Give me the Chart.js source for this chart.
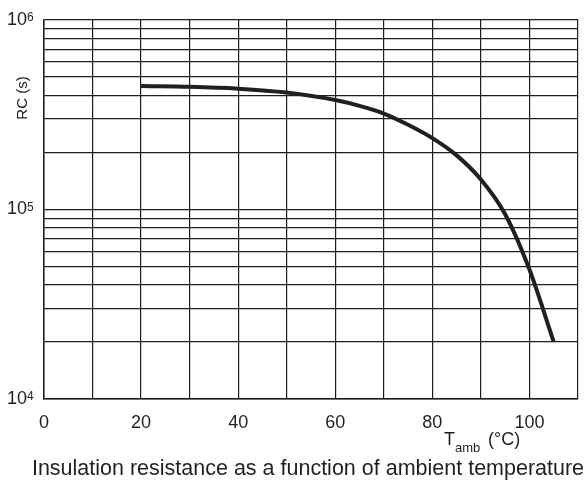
<!DOCTYPE html>
<html>
<head>
<meta charset="utf-8">
<script src="https://cdn.jsdelivr.net/npm/chart.js@4/dist/chart.umd.min.js"></script>
<style>
  html, body { margin: 0; padding: 0; background: #fff; }
  canvas { display: block; }
</style>
</head>
<body>
<canvas id="chart" width="587" height="480"></canvas>
<script>
// ambient temperature (°C) and RC (s)
const tempValues = [20, 30, 40, 50, 60, 65, 70, 75, 80, 85, 90, 95, 100, 105];
const rcValues = [448000, 444000, 434000, 414000, 378000, 352000, 321000, 280000, 238000, 193000, 144000, 94400, 48200, 20000];

const xLabelValues = [0, 20, 40, 60, 80, 100];
const yGridValues = [1e4, 2e4, 3e4, 4e4, 5e4, 6e4, 7e4, 8e4, 9e4,
                     1e5, 2e5, 3e5, 4e5, 5e5, 6e5, 7e5, 8e5, 9e5, 1e6];
const yLabelValues = [1e4, 1e5, 1e6];

const FONT = '"Liberation Sans", Arial, Helvetica, sans-serif';
const INK = '#231f20';
const GRID = '#1e1e1e';

const labelsPlugin = {
    id: 'labels',
    afterDraw(chart) {
        const ctx = chart.ctx;
        const x = chart.scales.x;
        const y = chart.scales.y;
        const area = chart.chartArea;
        ctx.save();
        ctx.fillStyle = INK;

        // x tick labels
        ctx.font = '18px ' + FONT;
        ctx.textAlign = 'center';
        ctx.textBaseline = 'alphabetic';
        xLabelValues.forEach(v => {
            ctx.fillText(String(v), x.getPixelForValue(v), area.bottom + 29);
        });

        // y tick labels 10^n
        yLabelValues.forEach(v => {
            const py = y.getPixelForValue(v);
            const exp = Math.round(Math.log10(v));
            ctx.font = '18px ' + FONT;
            ctx.textAlign = 'right';
            ctx.textBaseline = 'middle';
            ctx.fillText('10', 27, py);
            ctx.font = '12px ' + FONT;
            ctx.textAlign = 'left';
            ctx.textBaseline = 'top';
            ctx.fillText(String(exp), 27, py - 8);
        });

        // x axis title T_amb (°C)
        ctx.textAlign = 'left';
        ctx.textBaseline = 'alphabetic';
        ctx.font = '18px ' + FONT;
        ctx.fillText('T', 444, 445);
        ctx.font = '13px ' + FONT;
        ctx.fillText('amb', 455, 452);
        ctx.font = '18px ' + FONT;
        ctx.fillText('(°C)', 488, 445);

        // y axis title
        ctx.save();
        ctx.translate(27, 98);
        ctx.rotate(-Math.PI / 2);
        ctx.font = '15px ' + FONT;
        ctx.textAlign = 'center';
        ctx.textBaseline = 'alphabetic';
        ctx.fillText('RC (s)', 0, 0);
        ctx.restore();

        // caption
        ctx.font = '21.5px ' + FONT;
        ctx.textAlign = 'center';
        ctx.fillText('Insulation resistance as a function of ambient temperature', 308, 475);
        ctx.restore();
    }
};

new Chart(document.getElementById('chart'), {
    type: 'line',
    data: {
        datasets: [{
            data: tempValues.map((t, i) => ({ x: t, y: rcValues[i] })),
            borderColor: INK,
            borderWidth: 4,
            pointRadius: 0,
            fill: false,
            cubicInterpolationMode: 'monotone'
        }]
    },
    options: {
        responsive: false,
        animation: false,
        layout: {
            padding: { left: 44, right: 9, top: 20, bottom: 81 }
        },
        plugins: {
            legend: { display: false },
            tooltip: { enabled: false }
        },
        scales: {
            x: {
                type: 'linear',
                min: 0,
                max: 110,
                ticks: { display: false, stepSize: 10 },
                grid: { color: GRID, lineWidth: 1.2, drawTicks: false },
                border: { color: GRID, width: 1.5 }
            },
            y: {
                type: 'logarithmic',
                min: 1e4,
                max: 1e6,
                afterBuildTicks: scale => {
                    scale.ticks = yGridValues.map(v => ({ value: v }));
                },
                ticks: { display: false },
                grid: { color: GRID, lineWidth: 1.2, drawTicks: false },
                border: { color: GRID, width: 1.5 }
            }
        }
    },
    plugins: [labelsPlugin]
});
</script>
</body>
</html>
